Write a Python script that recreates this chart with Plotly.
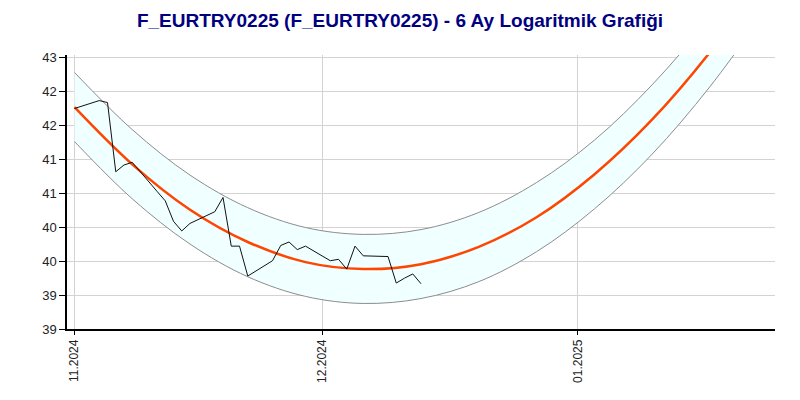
import plotly.graph_objects as go
import math

# Price data
price_dates = ["2024-11-01", "2024-11-04", "2024-11-05", "2024-11-06", "2024-11-07", "2024-11-08",
               "2024-11-11", "2024-11-12", "2024-11-13", "2024-11-14", "2024-11-15",
               "2024-11-18", "2024-11-19", "2024-11-20", "2024-11-21", "2024-11-22",
               "2024-11-25", "2024-11-26", "2024-11-27", "2024-11-28", "2024-11-29",
               "2024-12-02", "2024-12-03", "2024-12-04", "2024-12-05", "2024-12-06",
               "2024-12-09", "2024-12-10", "2024-12-11", "2024-12-12", "2024-12-13"]
price_values = [42.22, 42.34, 42.31, 41.27, 41.37, 41.41,
                40.98, 40.84, 40.54, 40.40, 40.51,
                40.68, 40.89, 40.18, 40.18, 39.75,
                39.97, 40.19, 40.24, 40.13, 40.18,
                39.97, 39.99, 39.85, 40.18, 40.04,
                40.03, 39.65, 39.72, 39.78, 39.64]

# Logarithmic regression curve and channel
trend_dates = ["2024-11-01", "2024-11-08", "2024-11-15", "2024-11-22", "2024-11-29", "2024-12-06",
               "2024-12-13", "2024-12-20", "2024-12-27", "2025-01-03", "2025-01-10", "2025-01-17",
               "2025-01-24"]
trend_values = [42.24, 41.38, 40.71, 40.24, 39.95, 39.85, 39.92, 40.17, 40.60, 41.23, 42.05, 43.08, 44.33]
upper_values = [42.77, 41.90, 41.22, 40.74, 40.45, 40.35, 40.42, 40.67, 41.11, 41.74, 42.58, 43.62, 44.88]
lower_values = [41.72, 40.87, 40.21, 39.74, 39.46, 39.36, 39.43, 39.67, 40.10, 40.72, 41.53, 42.55, 43.78]

# Axis ticks
y_tickvals = [39.0, 39.4789, 39.9637, 40.4545, 40.9512, 41.4541, 41.9631, 42.4785, 43.0]
y_ticktext = ["39", "39", "40", "40", "41", "41", "42", "42", "43"]
x_tickvals = ["2024-11-01", "2024-12-01", "2025-01-01"]
x_ticktext = ["11.2024", "12.2024", "01.2025"]

title = "F_EURTRY0225 (F_EURTRY0225) - 6 Ay Logaritmik Grafiği"

fig = go.Figure()
fig.add_trace(go.Scatter(x=trend_dates, y=lower_values, mode="lines",
                         line=dict(color="#8c8c8c", width=1, shape="spline"),
                         hoverinfo="skip", showlegend=False))
fig.add_trace(go.Scatter(x=trend_dates, y=upper_values, mode="lines",
                         line=dict(color="#8c8c8c", width=1, shape="spline"),
                         fill="tonexty", fillcolor="#F0FFFF",
                         hoverinfo="skip", showlegend=False))
fig.add_trace(go.Scatter(x=trend_dates, y=trend_values, mode="lines",
                         line=dict(color="#FF4500", width=2.5, shape="spline"),
                         showlegend=False))
fig.add_trace(go.Scatter(x=price_dates, y=price_values, mode="lines",
                         line=dict(color="#111111", width=1),
                         showlegend=False))

fig.update_layout(
    width=800, height=400,
    margin=dict(l=67, r=25, t=55, b=71),
    paper_bgcolor="white", plot_bgcolor="white",
    title=dict(text="<b>" + title + "</b>", x=0.5, xanchor="center", y=0.95, yanchor="middle",
               font=dict(family="Liberation Sans, Arial", size=19, color="#000080")),
    font=dict(family="Liberation Sans, Arial", size=12, color="#222222"),
    xaxis=dict(type="date",
               range=["2024-10-31 02:10", "2025-01-24 21:40"],
               tickvals=x_tickvals, ticktext=x_ticktext, tickangle=-90,
               showgrid=True, gridcolor="#d3d3d3", gridwidth=1,
               showline=True, linecolor="black", linewidth=1.5,
               ticks="outside", ticklen=4, tickcolor="black",
               tickfont=dict(size=12), zeroline=False),
    yaxis=dict(type="log",
               range=[math.log10(39.0), math.log10(43.04)],
               tickvals=y_tickvals, ticktext=y_ticktext,
               showgrid=True, gridcolor="#d3d3d3", gridwidth=1,
               showline=True, linecolor="black", linewidth=1.5,
               ticks="outside", ticklen=6, tickcolor="black",
               tickfont=dict(size=13), zeroline=False),
)

fig.write_html("out.html")
